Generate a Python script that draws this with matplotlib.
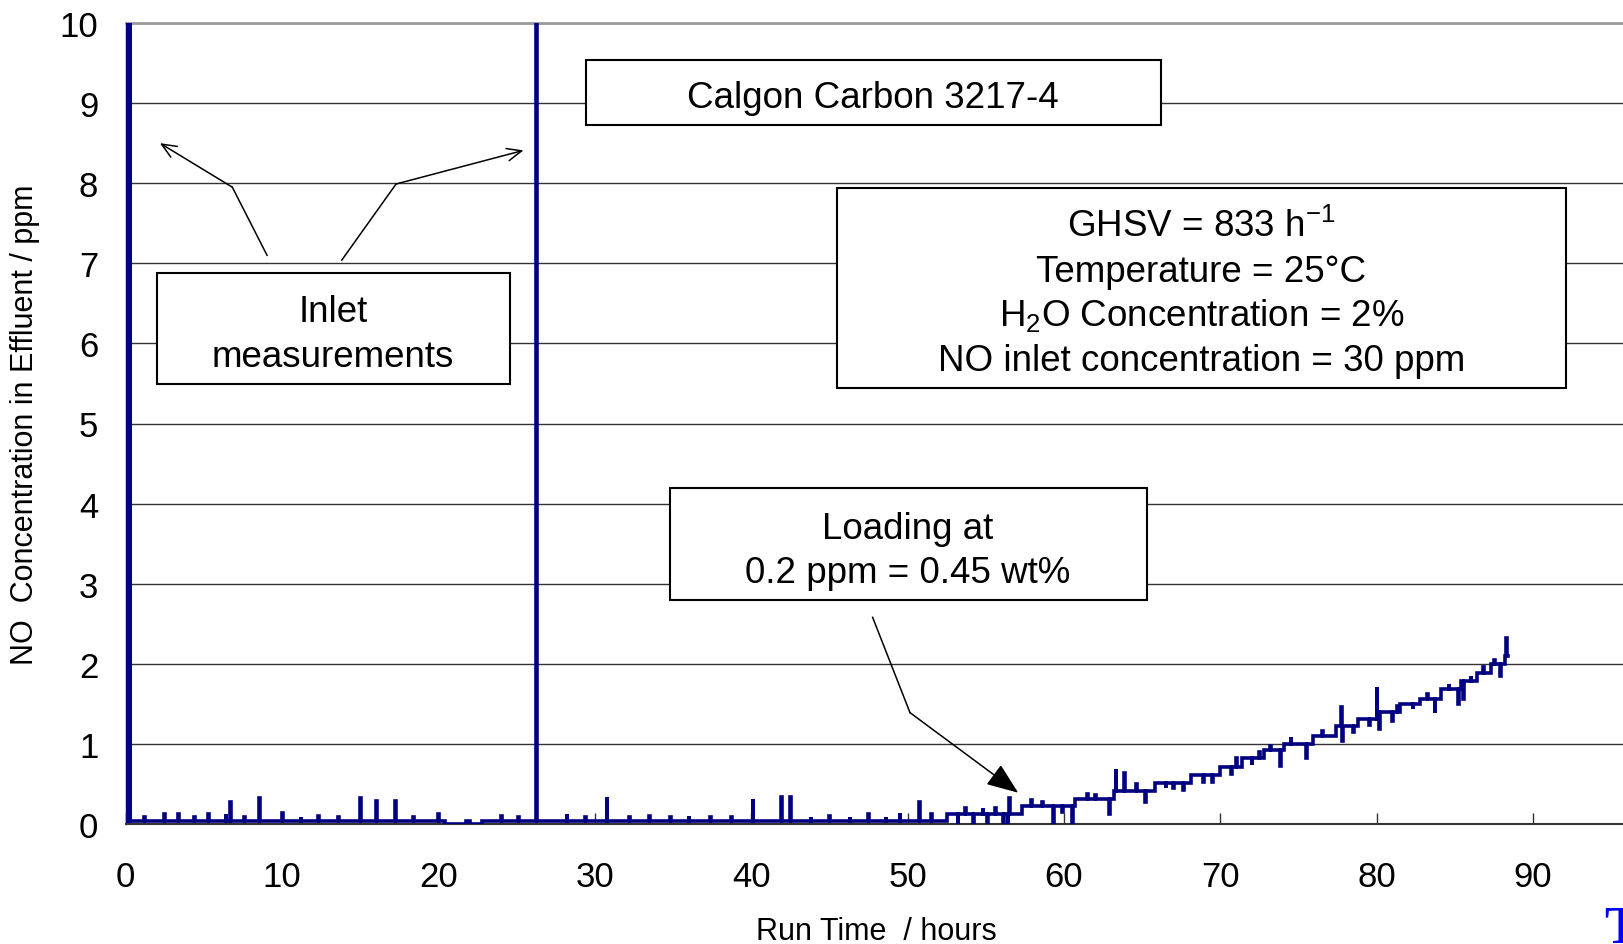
import matplotlib
matplotlib.use('Agg')
import matplotlib.pyplot as plt
from matplotlib.patches import Rectangle

plt.rcParams['font.family'] = ['Liberation Sans', 'DejaVu Sans']
plt.rcParams['mathtext.fontset'] = 'custom'
plt.rcParams['mathtext.rm'] = 'Liberation Sans'
plt.rcParams['mathtext.it'] = 'Liberation Sans'
plt.rcParams['mathtext.default'] = 'regular'

# ---------------- data ----------------
# plateau (step) levels of the effluent NO concentration, ppm
plateau_starts = [0.0, 52.5, 57.3, 60.7, 63.2, 65.8, 68.1, 70.0, 71.4, 72.8, 74.1,
                  75.9, 77.4, 78.8, 80.1, 81.5, 82.8, 84.1, 85.4, 86.4, 87.3, 88.2]
plateau_levels = [0.04, 0.13, 0.22, 0.31, 0.41, 0.51, 0.61, 0.71, 0.82, 0.93, 1.00,
                  1.10, 1.22, 1.31, 1.40, 1.50, 1.56, 1.68, 1.79, 1.89, 2.00, 2.10]
run_end = 88.4

# inlet measurements (30 ppm, off scale)
inlet_times = [0.08, 0.27, 26.27]
inlet_value = 30.0

# short excursions (spikes and dips) : time (h), value (ppm)
excursion_times = [1.2, 2.45, 3.38, 4.4, 5.3, 6.4, 6.7, 7.6, 8.55, 10.0, 11.2, 12.3,
                   13.6, 15.0, 16.0, 17.25, 18.4, 20.0, 24.0, 25.1, 28.2, 29.4, 30.76,
                   32.2, 33.5, 34.8, 36.0, 37.4, 38.7, 40.1, 41.9, 42.5, 43.8, 45.0,
                   46.3, 47.5, 48.6, 49.5, 50.75, 51.5,
                   53.2, 53.7, 54.2, 54.8, 55.1, 55.6, 56.1, 56.4, 56.5, 57.9, 58.6,
                   59.3, 59.9, 60.5, 61.5, 62.0, 62.9, 63.3, 63.85, 64.6, 65.2, 66.5,
                   67.0, 67.6, 68.9, 69.5, 70.7, 71.0, 72.0, 72.5, 73.2, 73.8, 74.5,
                   75.5, 76.5, 77.7, 77.8, 78.5, 79.5, 80.0, 80.15, 81.0, 81.3, 82.3,
                   83.2, 83.7, 84.6, 85.2, 85.5, 86.0, 86.8, 87.5, 87.9, 88.25]
excursion_values = [0.09, 0.13, 0.13, 0.09, 0.13, 0.13, 0.28, 0.09, 0.33, 0.14, 0.09, 0.10,
                    0.09, 0.33, 0.29, 0.29, 0.09, 0.13, 0.10, 0.09, 0.13, 0.09, 0.34,
                    0.09, 0.10, 0.09, 0.10, 0.09, 0.09, 0.31, 0.34, 0.34, 0.09, 0.10,
                    0.09, 0.12, 0.09, 0.14, 0.28, 0.12,
                    0.00, 0.20, 0.00, 0.20, 0.00, 0.20, 0.00, 0.00, 0.33, 0.30, 0.28,
                    0.00, 0.15, 0.00, 0.38, 0.36, 0.12, 0.69, 0.64, 0.50, 0.27, 0.45,
                    0.45, 0.42, 0.52, 0.52, 0.62, 0.82, 0.74, 0.90, 0.98, 0.73, 1.08,
                    0.83, 1.16, 1.46, 1.04, 1.15, 1.24, 1.71, 1.19, 1.29, 1.47, 1.44,
                    1.62, 1.39, 1.75, 1.50, 1.56, 1.85, 1.96, 2.05, 1.85, 2.32]

# intervals where the analyser read zero
zero_starts = [20.4, 22.0]
zero_ends = [21.8, 22.8]

x_ticks = [0, 10, 20, 30, 40, 50, 60, 70, 80, 90]
y_ticks = [0, 1, 2, 3, 4, 5, 6, 7, 8, 9, 10]


# ---------------- build the drawn path ----------------
def build_path():
    events = []
    for t in inlet_times:
        events.append((t, inlet_value, 0.02))
    for t, v in zip(excursion_times, excursion_values):
        events.append((t, v, 0.05))
    for s, e in zip(zero_starts, zero_ends):
        events.append((s, 0.0, e - s))
    events.sort()
    ends = plateau_starts[1:] + [run_end]
    xs, ys = [], []
    for s, e, lev in zip(plateau_starts, ends, plateau_levels):
        xs.append(s); ys.append(lev)
        for t, v, w in events:
            if s <= t < e:
                xs += [t, t, t + w, t + w]
                ys += [lev, v, v, lev]
        xs.append(e); ys.append(lev)
    return xs, ys


W, H = 1623, 945
fig = plt.figure(figsize=(W / 100, H / 100), dpi=100)
left_px, right_px, top_px, bottom_px = 125.5, 1623, 24, 825
ax = fig.add_axes([left_px / W, (H - bottom_px) / H,
                   (right_px - left_px) / W, (bottom_px - top_px) / H])

xmax = (right_px - left_px) / 15.64
ax.set_xlim(0, xmax)
ax.set_ylim(0, 10)

xs, ys = build_path()
ax.plot(xs, ys, color='#000080', lw=2.6, solid_joinstyle='miter', zorder=3)

# grid & spines
ax.set_yticks(y_ticks)
ax.set_xticks(x_ticks)
ax.yaxis.grid(True, color='#333333', lw=1.0)
ax.set_axisbelow(True)
ax.spines['right'].set_visible(False)
ax.spines['top'].set_color('#9a9a9a')
ax.spines['top'].set_linewidth(2.0)
ax.spines['left'].set_color('black')
ax.spines['left'].set_linewidth(1.0)
ax.spines['bottom'].set_color('#333333')
ax.spines['bottom'].set_linewidth(1.5)
ax.tick_params(axis='x', direction='in', length=8, width=1, color='#333333',
               labelsize=25, pad=26)
ax.tick_params(axis='y', direction='in', length=0, labelsize=25, pad=19.6)

fig.text(876.7 / W, (H - 932) / H, 'Run Time  / hours', fontsize=22,
         ha='center', va='center')
fig.text(24.8 / W, (H - 425) / H, 'NO  Concentration in Effluent / ppm',
         fontsize=22, rotation=90, ha='center', va='center')

# ---------------- annotations ----------------
def box(x0, x1, y0, y1):
    ax.add_patch(Rectangle((x0, y0), x1 - x0, y1 - y0, facecolor='white',
                           edgecolor='black', lw=1.5, zorder=5))

d = 0.055  # small downward shift of text to match the reference baseline
box(29.45, 66.2, 8.73, 9.54)
ax.text(47.8, 9.13 - d, 'Calgon Carbon 3217-4', fontsize=26.5, ha='center',
        va='center', zorder=6)

box(2.03, 24.6, 5.49, 6.875)
ax.text(13.27, 6.45 - d, 'Inlet', fontsize=26.5, ha='center', va='center', zorder=6)
ax.text(13.27, 5.89 - d, 'measurements', fontsize=26.5, ha='center', va='center', zorder=6)

box(45.52, 92.1, 5.44, 7.935)
ax.text(68.8, 7.52 - d, 'GHSV = 833 h$^{-1}$', fontsize=26.5, ha='center', va='center', zorder=6)
ax.text(68.8, 6.95 - d, 'Temperature = 25\u00b0C', fontsize=26.5, ha='center', va='center', zorder=6)
ax.text(68.8, 6.41 - d, 'H$_2$O Concentration = 2%', fontsize=26.5, ha='center', va='center', zorder=6)
ax.text(68.8, 5.84 - d, 'NO inlet concentration = 30 ppm', fontsize=26.5, ha='center',
        va='center', zorder=6)

box(34.8, 65.3, 2.80, 4.19)
ax.text(50.02, 3.75 - d, 'Loading at', fontsize=26.5, ha='center', va='center', zorder=6)
ax.text(50.02, 3.19 - d, '0.2 ppm = 0.45 wt%', fontsize=26.5, ha='center', va='center', zorder=6)

# pointer lines
ax.plot([9.05, 6.83], [7.10, 7.95], color='black', lw=1.1, zorder=4)
ax.annotate('', xy=(2.2, 8.5), xytext=(6.83, 7.95),
            arrowprops=dict(arrowstyle='->,head_length=0.7,head_width=0.3',
                            color='black', lw=1.1, mutation_scale=15,
                            shrinkA=0, shrinkB=0), zorder=4)
ax.plot([13.83, 17.3], [7.04, 7.99], color='black', lw=1.1, zorder=4)
ax.annotate('', xy=(25.45, 8.41), xytext=(17.3, 7.99),
            arrowprops=dict(arrowstyle='->,head_length=0.7,head_width=0.3',
                            color='black', lw=1.1, mutation_scale=15,
                            shrinkA=0, shrinkB=0), zorder=4)
ax.plot([47.77, 50.16], [2.58, 1.39], color='black', lw=1.1, zorder=4)
ax.annotate('', xy=(57.08, 0.39), xytext=(50.16, 1.39),
            arrowprops=dict(arrowstyle='-|>,head_length=0.9,head_width=0.35',
                            color='black', lw=1.1, mutation_scale=22,
                            shrinkA=0, shrinkB=0), zorder=4)

fig.text(1604 / W, (H - 906) / H, 'T', color='#0000ff', fontsize=38,
         fontfamily='Liberation Serif', fontweight='bold', ha='left', va='top')

fig.savefig('out.png', dpi=100)
